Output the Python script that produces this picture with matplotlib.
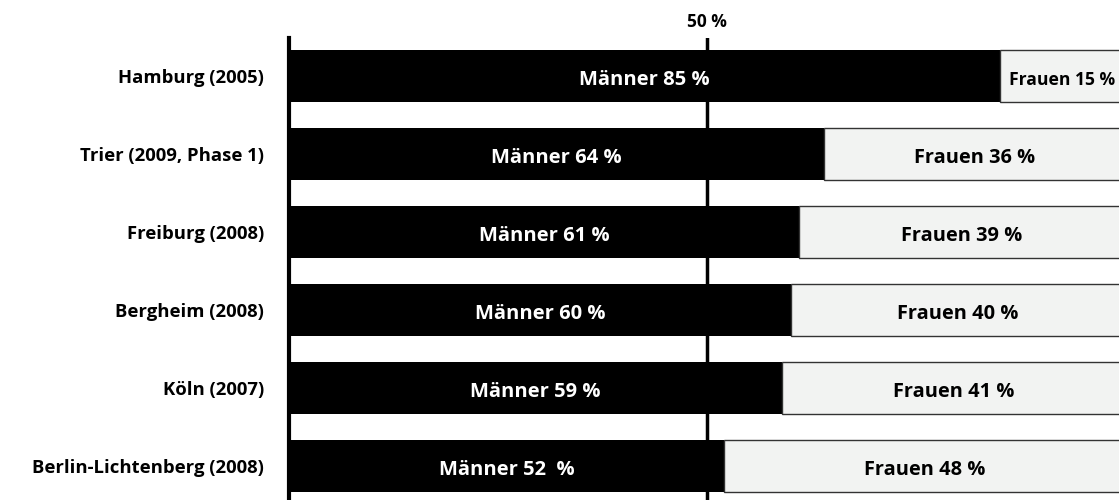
import matplotlib
matplotlib.use("Agg")
import matplotlib.pyplot as plt

plt.rcParams['font.family'] = ['Open Sans', 'DejaVu Sans']
plt.rcParams['font.weight'] = 'bold'

cities = ['Hamburg (2005)', 'Trier (2009, Phase 1)', 'Freiburg (2008)',
          'Bergheim (2008)', 'Köln (2007)', 'Berlin-Lichtenberg (2008)']
maenner = [85, 64, 61, 60, 59, 52]
frauen = [15, 36, 39, 40, 41, 48]
m_labels = ['Männer 85 %', 'Männer 64 %', 'Männer 61 %',
            'Männer 60 %', 'Männer 59 %', 'Männer 52  %']
f_labels = ['Frauen 15 %', 'Frauen 36 %', 'Frauen 39 %',
            'Frauen 40 %', 'Frauen 41 %', 'Frauen 48 %']

fig = plt.figure(figsize=(11.19, 5.0), dpi=100)
# axes runs a little past the right edge so 100 % sits just outside
ax = fig.add_axes([289 / 1119, 0.0, 836 / 1119, 1 - 38 / 500])

y = list(range(len(cities)))
h = 52 / 78

ax.barh(y, maenner, height=h, color='black', zorder=2)
ax.barh(y, frauen, left=maenner, height=h, color='#f2f3f2',
        edgecolor='#333333', linewidth=1, zorder=2)

# labels sit a touch below the bar centre
dy = 0.045
for i in y:
    ax.text(maenner[i] / 2, i + dy, m_labels[i], color='white', ha='center',
            va='center', fontsize=14.5, fontweight='bold', zorder=3)
    fs = 12.6 if frauen[i] < 20 else 14.4
    ax.text(maenner[i] + frauen[i] / 2, i + dy, f_labels[i], color='black',
            ha='center', va='center', fontsize=fs, fontweight='bold', zorder=3)

ax.axvline(50, color='black', linewidth=2.5, zorder=1)

ax.set_xlim(0, 100)
ax.set_ylim(5 + 34 / 78, -38 / 78)
ax.set_yticks(y)
ax.set_yticklabels(cities, fontsize=13.3, fontweight='bold')
ax.tick_params(axis='y', length=0, pad=18)
ax.xaxis.tick_top()
ax.set_xticks([50])
ax.set_xticklabels(['50 %'], fontsize=12.5, fontweight='bold')
ax.tick_params(axis='x', length=0, pad=5)

for s in ['top', 'right', 'bottom']:
    ax.spines[s].set_visible(False)
ax.spines['left'].set_linewidth(3)

fig.savefig('out.png', dpi=100)
